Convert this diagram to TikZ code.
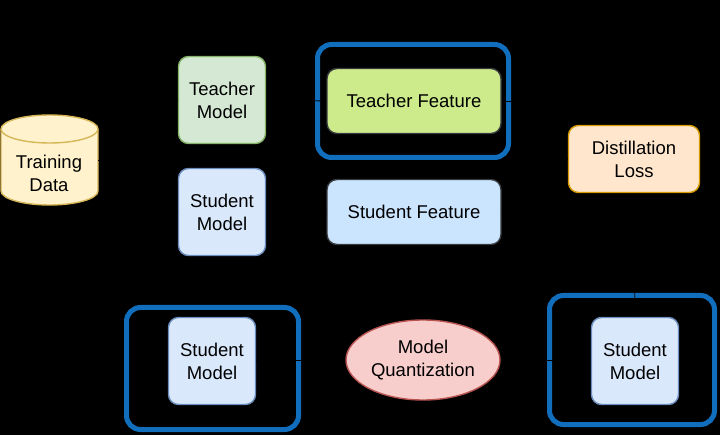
\documentclass[tikz,border=0pt]{standalone}
\usepackage{fontspec}
\setmainfont{Liberation Sans}
\usepackage{tikz}
\usetikzlibrary{shapes.geometric, arrows}
\usepackage{xcolor}

\begin{document}
\begin{tikzpicture}[x=1pt, y=1pt,
    box/.style={draw, rounded corners=10pt, line width=1.4pt, align=center,
        font=\fontsize{18.5}{23}\selectfont, minimum width=87pt, minimum height=87pt, inner sep=0pt},
    featbox/.style={box, draw=featline, minimum width=174pt, minimum height=65pt},
    groupbox/.style={draw=groupblue, line width=5pt, rounded corners=14pt, minimum width=#1, inner sep=0pt},
    link/.style={->, thick, black}]
    % Define colors for boxes (draw.io palette)
        \definecolor{datafill}{HTML}{FFF2CC}   % yellow cylinder
        \definecolor{dataline}{HTML}{D6B656}
        \definecolor{teachfill}{HTML}{D5E8D4}  % green model
        \definecolor{teachline}{HTML}{82B366}
        \definecolor{studfill}{HTML}{DAE8FC}   % blue model
        \definecolor{studline}{HTML}{6C8EBF}
        \definecolor{tfeatfill}{HTML}{CDEB8B}  % lime feature
        \definecolor{sfeatfill}{HTML}{CCE5FF}  % light blue feature
        \definecolor{featline}{HTML}{36393D}
        \definecolor{lossfill}{HTML}{FFE6CC}   % orange loss
        \definecolor{lossline}{HTML}{D79B00}
        \definecolor{quantfill}{HTML}{F8CECC}  % red ellipse
        \definecolor{quantline}{HTML}{B85450}
        \definecolor{groupblue}{RGB}{16,110,188}  % thick frames

        % Black background, fixes the size of the picture
        \useasboundingbox (0,0) rectangle (720,-435);
        \fill[black] (0,0) rectangle (720,-435);

        % Draw the "Training Data" cylinder
        \path[draw=dataline, fill=datafill, line width=1.4pt] (1,-129) -- (1,-191)
            arc[start angle=180, end angle=360, x radius=48.5, y radius=14] -- (98,-129)
            arc[start angle=0, end angle=180, x radius=48.5, y radius=14] -- cycle;
        \draw[dataline, line width=1.4pt] (1,-129) arc[start angle=180, end angle=360, x radius=48.5, y radius=14];
        \node[align=center, font=\fontsize{18.5}{23}\selectfont] (data) at (49,-173) {Training\\Data};
        \coordinate (dataR) at (98,-160);

        % Draw the teacher and student models
        \node[box, draw=teachline, fill=teachfill] (tmodel) at (222,-100) {Teacher\\Model};
        \node[box, draw=studline, fill=studfill] (smodel) at (222,-212) {Student\\Model};

        % Draw the two feature boxes, teacher one inside a blue frame
        \node[featbox, fill=tfeatfill] (tfeat) at (414,-101) {Teacher Feature};
        \node[featbox, fill=sfeatfill] (sfeat) at (414,-212) {Student Feature};
        \node[groupbox=191pt, minimum height=113pt] (tgroup) at (413,-101) {};

        % Draw the "Distillation Loss" box
        \node[box, draw=lossline, fill=lossfill, minimum width=131pt, minimum height=67pt] (loss) at (634,-159) {Distillation\\Loss};

        % Bottom row: student model, quantization, quantized student model
        \node[box, draw=studline, fill=studfill] (sright) at (635,-361) {Student\\Model};
        \node[groupbox=165pt, minimum height=129pt] (rgroup) at (632,-360) {};
        \node[ellipse, draw=quantline, fill=quantfill, line width=1.4pt, align=center, inner sep=0pt,
            minimum width=154pt, minimum height=80pt, font=\fontsize{18.5}{23}\selectfont] (quant) at (423,-360) {Model\\Quantization};
        \node[box, draw=studline, fill=studfill] (sleft) at (212,-361) {Student\\Model};
        \node[groupbox=172pt, minimum height=122pt] (lgroup) at (212.5,-368.5) {};

        % Connectors (black, as in the drawing)
        \draw[link] (dataR) -- ++(40,0) |- (tmodel.west);
        \draw[link] (dataR) -- ++(40,0) |- (smodel.west);
        \draw[link] (tmodel.east) -- (tfeat.west);
        \draw[link] (smodel.east) -- (sfeat.west);
        \draw[link] (tfeat.east) -- ++(34,0) |- (loss.west);
        \draw[link] (sfeat.east) -- ++(34,0) |- (loss.west);
        \draw[link] (loss.south) -- (sright.north);
        \draw[link] (sright.west) -- (quant.east);
        \draw[link] (quant.west) -- (sleft.east);

    \end{tikzpicture}
\end{document}
